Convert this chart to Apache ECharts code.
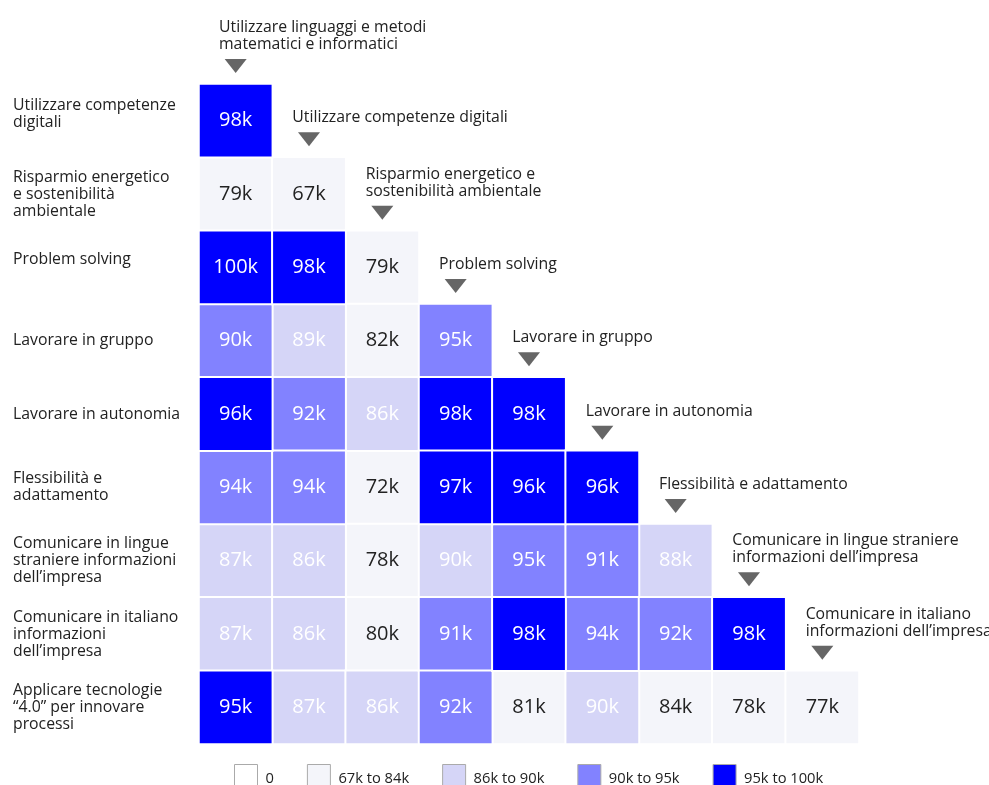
<!DOCTYPE html>
<html>
<head>
<meta charset="utf-8">
<script src="https://cdn.jsdelivr.net/npm/echarts@6/dist/echarts.min.js"></script>
<style>
html,body{margin:0;padding:0;background:#fff;}
#chart{width:989px;height:785px;}
</style>
</head>
<body>
<div id="chart"></div>
<script>
// Row labels (y axis, top to bottom)
var rowLabels = [
  "Utilizzare competenze\ndigitali",
  "Risparmio energetico\ne sostenibilità\nambientale",
  "Problem solving",
  "Lavorare in gruppo",
  "Lavorare in autonomia",
  "Flessibilità e\nadattamento",
  "Comunicare in lingue\nstraniere informazioni\ndell’impresa",
  "Comunicare in italiano\ninformazioni\ndell’impresa",
  "Applicare tecnologie\n“4.0” per innovare\nprocessi"
];
// Column labels (shown above each diagonal cell)
var colLabels = [
  "Utilizzare linguaggi e metodi\nmatematici e informatici",
  "Utilizzare competenze digitali",
  "Risparmio energetico e\nsostenibilità ambientale",
  "Problem solving",
  "Lavorare in gruppo",
  "Lavorare in autonomia",
  "Flessibilità e adattamento",
  "Comunicare in lingue straniere\ninformazioni dell’impresa",
  "Comunicare in italiano\ninformazioni dell’impresa"
];
// Values in thousands, one row per row label (lower triangle)
var row0 = [98.2];
var row1 = [79, 67];
var row2 = [99.8, 98.1, 79];
var row3 = [90.3, 89.2, 82, 94.7];
var row4 = [96.1, 92.1, 86.2, 98.1, 98.2];
var row5 = [94.1, 94.2, 72, 97, 96.1, 96.2];
var row6 = [87, 86, 78, 89.7, 94.8, 91, 88];
var row7 = [87, 86, 80, 91, 98, 94, 92, 98.2];
var row8 = [95.2, 87, 86, 92, 81, 89.8, 84, 78, 77];
var rows = [row0, row1, row2, row3, row4, row5, row6, row7, row8];

// Legend classes
var classNames = ["0", "67k to 84k", "86k to 90k", "90k to 95k", "95k to 100k"];
var classLower = [0, 67, 85, 90, 95];

// styles
var classColors = ["#ffffff", "#f4f5fa", "#d5d5f7", "#8282ff", "#0000ff"];
var classText = ["#222222", "#222222", "#ffffff", "#ffffff", "#ffffff"];
var rowShift = [14, 0, 16, 0, 0, 0, 0, 0, 0];
var FONT = "'Open Sans', 'Noto Sans', sans-serif";
var LABEL_SIZE = 15.8;

function classOf(v) {
  if (v === 0) return 0;
  var c = 1;
  for (var i = 1; i < classLower.length; i++) if (v >= classLower[i]) c = i;
  return c;
}

var buckets = classNames.map(function () { return []; });
rows.forEach(function (r, ri) {
  r.forEach(function (v, ci) {
    buckets[classOf(v)].push([ci, ri, v]);
  });
});

var series = classNames.map(function (name, k) {
  return {
    name: name,
    type: 'heatmap',
    data: buckets[k],
    itemStyle: { color: classColors[k], borderColor: '#ffffff', borderWidth: 2 },
    label: {
      show: true,
      formatter: function (p) { return Math.round(p.value[2]) + 'k'; },
      fontSize: 20,
      fontFamily: FONT,
      color: classText[k]
    },
    emphasis: { disabled: true }
  };
});

series.push({
  type: 'custom',
  silent: true,
  data: colLabels.map(function (t, j) { return [j, j]; }),
  encode: { x: 0, y: 1 },
  z: 10,
  renderItem: function (params, api) {
    var j = api.value(0);
    var p = api.coord([j, j]);
    var s = api.size([1, 1]);
    var top = p[1] - s[1] / 2;
    var left = p[0] - s[0] / 2;
    var cx = p[0];
    return {
      type: 'group',
      children: [
        {
          type: 'polygon',
          shape: { points: [[cx - 11, top - 25], [cx + 11, top - 25], [cx, top - 11]] },
          style: { fill: '#666666' }
        },
        {
          type: 'text',
          style: {
            text: colLabels[j],
            x: left + 20,
            y: top - 31,
            align: 'left',
            verticalAlign: 'bottom',
            fontSize: LABEL_SIZE,
            lineHeight: 17,
            fontFamily: FONT,
            fill: '#222222'
          }
        }
      ]
    };
  }
});

// rich styles for row labels: a trailing spacer line lifts the text block
var rich = { t: { fontSize: LABEL_SIZE, lineHeight: 17, fontFamily: FONT, color: '#222222', align: 'left' } };
rowShift.forEach(function (h) {
  if (h > 0) rich['s' + h] = { fontSize: 1, lineHeight: h, height: h, align: 'left' };
});

var chart = echarts.init(document.getElementById('chart'), null, { renderer: 'canvas' });
chart.setOption({
  animation: false,
  backgroundColor: '#ffffff',
  grid: { left: 199, top: 84, width: 660, height: 660, containLabel: false, outerBoundsMode: 'none' },
  xAxis: {
    type: 'category',
    data: colLabels,
    show: false
  },
  yAxis: {
    type: 'category',
    inverse: true,
    data: rowLabels,
    axisLine: { show: false },
    axisTick: { show: false },
    splitLine: { show: false },
    axisLabel: {
      align: 'left',
      margin: 186,
      fontSize: LABEL_SIZE,
      lineHeight: 17,
      fontFamily: FONT,
      color: '#222222',
      interval: 0,
      formatter: function (value, index) {
        var lines = value.split('\n').map(function (l) { return '{t|' + l + '}'; });
        var h = rowShift[index];
        if (h > 0) lines.push('{s' + h + '| }');
        return lines.join('\n');
      },
      rich: rich
    }
  },
  legend: {
    data: classNames,
    selectedMode: false,
    left: 234,
    top: 764,
    padding: 0,
    icon: 'rect',
    itemWidth: 23,
    itemHeight: 28,
    itemGap: 33,
    itemStyle: { borderColor: '#aaaaaa', borderWidth: 1 },
    textStyle: { fontSize: 14.7, fontFamily: FONT, color: '#222222', padding: [0, 0, 0, 3] }
  },
  series: series
});
</script>
</body>
</html>
